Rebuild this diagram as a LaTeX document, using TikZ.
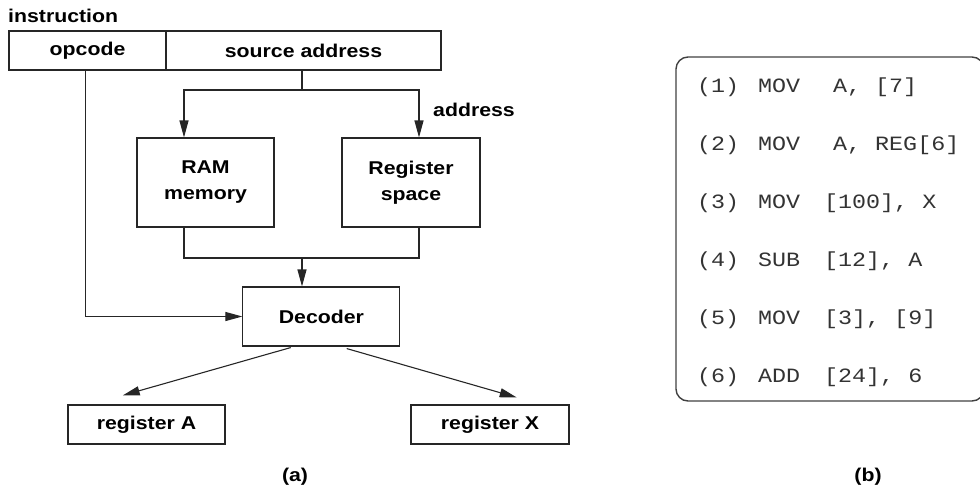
\documentclass[tikz,border=0pt]{standalone}
\usepackage{fontspec}
\newfontfamily\labelfont[FakeStretch=1.15]{Liberation Sans Bold}
\newfontfamily\codefont[FakeStretch=1.15]{Liberation Mono}
\usetikzlibrary{arrows.meta}

\begin{document}
\begin{tikzpicture}[x=1pt, y=-1pt,
  box/.style={draw=black!85, line width=1.1pt, inner sep=0pt, align=center,
    font=\labelfont\fontsize{18.5}{26}\selectfont},
  lbl/.style={inner sep=0pt, font=\labelfont\fontsize{18.5}{26}\selectfont},
  wire/.style={draw=black!85, line width=1.1pt},
  arr/.style={wire, -{Triangle[length=17pt,width=9pt]}},
  code/.style={anchor=west, inner sep=0pt, text height=11pt, text depth=0pt,
    text=black!80, font=\codefont\fontsize{20.3}{24}\selectfont}]
   \useasboundingbox (0,0) rectangle (980,491);

   % instruction word
   \node[lbl, anchor=west] (instr) at (8,16) {instruction};
   \node[box, minimum width=157pt, minimum height=39pt] (opcode) at (87.5,50.5) {opcode};
   \node[box, minimum width=275pt, minimum height=39pt] (src) at (303.5,50.5) {source address};

   % blocks
   \node[box, minimum width=137pt, minimum height=89pt] (ram) at (205.5,182.5) {RAM\\memory};
   \node[box, minimum width=138pt, minimum height=89pt] (regsp) at (411,182.5) {Register\\space};
   \node[box, minimum width=157pt, minimum height=59pt] (dec) at (321.4,316.5) {Decoder};
   \node[box, minimum width=157pt, minimum height=39pt] (rega) at (146.5,424.5) {register A};
   \node[box, minimum width=158pt, minimum height=39pt] (regx) at (490,424.5) {register X};
   \node[lbl, anchor=west] (addr) at (433,110) {address};

   % wiring
   \coordinate (split) at (302,90);
   \coordinate (merge) at (302,258);
   \draw[wire] (src.south -| split) -- (split);
   \draw[arr] (split) -| ([xshift=-21.5pt]ram.north);
   \draw[arr] (split) -| ([xshift=8pt]regsp.north);
   \draw[wire] ([xshift=-21.5pt]ram.south) |- (merge) -| ([xshift=8pt]regsp.south);
   \draw[arr] (merge) -- (dec.north -| merge);
   \draw[arr] ([xshift=-1.8pt]opcode.south) |- (dec.west);
   \draw[arr] ([xshift=-30.7pt,yshift=-1pt]dec.south) -- ([xshift=-23.8pt,yshift=9pt]rega.north);
   \draw[arr] ([xshift=25.3pt,yshift=-2pt]dec.south) -- ([xshift=26.7pt,yshift=7pt]regx.north);

   % program listing
   \node[draw=black!75, line width=1.4pt, rounded corners=12pt, inner sep=0pt,
     minimum width=308pt, minimum height=344pt] (listing) at (830,229) {};
   \foreach \i/\op/\arg/\ax in {1/MOV/{A, [7]}/833, 2/MOV/{A, REG[6]}/833,
       3/MOV/{[100], X}/824, 4/SUB/{[12], A}/824, 5/MOV/{[3], [9]}/824,
       6/ADD/{[24], 6}/824} {
     \node[code] (num\i) at (697,29+58*\i) {(\i)};
     \node[code] (op\i) at (758,29+58*\i) {\op};
     \node[code] (arg\i) at (\ax,29+58*\i) {\arg};
   }

   % captions
   \node[lbl] (capa) at (295,477) {(a)};
   \node[lbl] (capb) at (868,477) {(b)};
\end{tikzpicture}
\end{document}
